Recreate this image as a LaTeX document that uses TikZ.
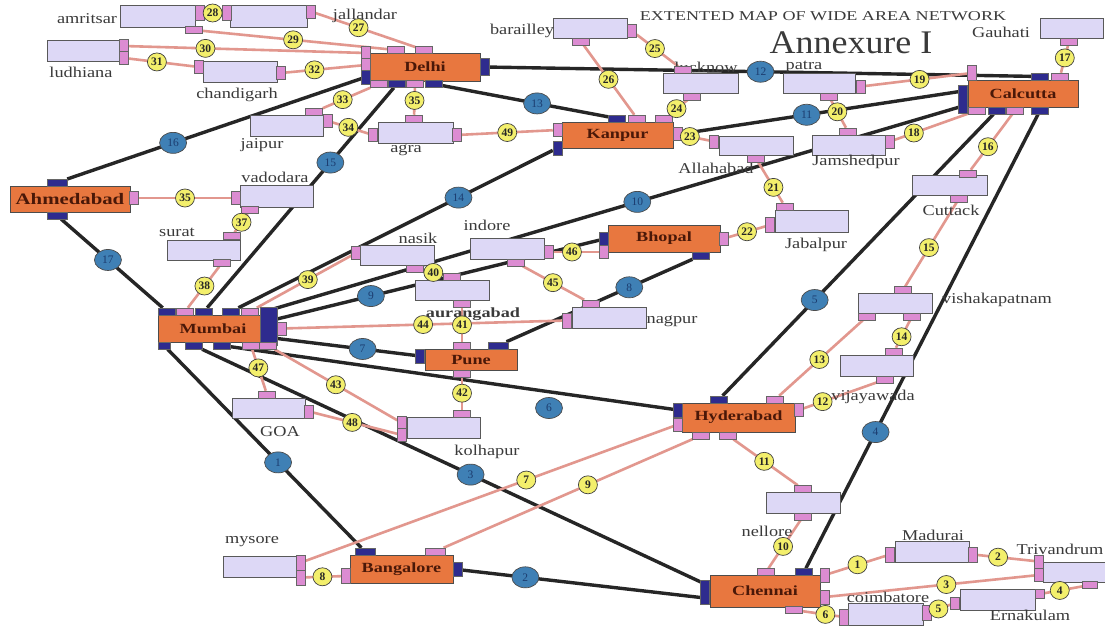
\documentclass[tikz,border=0pt]{standalone}
\usepackage{fontspec}
\usetikzlibrary{shapes.geometric}
\newfontfamily\myLblFam[FakeStretch=1.22]{Liberation Serif}
\newfontfamily\myHubFam[FakeStretch=1.3]{Liberation Serif}
\newfontfamily\myTtlFam[FakeStretch=1.34]{Liberation Serif}
\newfontfamily\myAnnFam[FakeStretch=1.09]{Liberation Serif}
\newfontfamily\myNumFam{Liberation Serif}
\newcommand\myLblF{\myLblFam\fontsize{15}{17}\selectfont}
\newcommand\myLblB{\myHubFam\bfseries\fontsize{14}{16}\selectfont}
\newcommand\myHubF{\myHubFam\bfseries\fontsize{14}{16}\selectfont}
\newcommand\myHubBig{\myHubFam\bfseries\fontsize{16}{18}\selectfont}
\newcommand\myTtlF{\myTtlFam\fontsize{13.5}{15}\selectfont}
\newcommand\myAnnF{\myAnnFam\fontsize{33}{36}\selectfont}
\newcommand\myNumF{\myNumFam\fontsize{11.5}{13}\selectfont}
\newcommand\myNumB{\myNumFam\bfseries\fontsize{11.5}{13}\selectfont}
\definecolor{hubor}{HTML}{E8773F}
\definecolor{hubtxt}{HTML}{4A1808}
\definecolor{boxlav}{HTML}{DDD8F6}
\definecolor{portpink}{HTML}{DC8CD2}
\definecolor{portnavy}{HTML}{2E2B8E}
\definecolor{lanpink}{HTML}{E2978E}
\definecolor{wanblack}{HTML}{262626}
\definecolor{wanblue}{HTML}{3F80B5}
\definecolor{wantxt}{HTML}{1C3D70}
\definecolor{lanyel}{HTML}{F3EF6C}
\definecolor{txtgray}{HTML}{3A3A3A}
\pgfdeclarelayer{bg}
\pgfsetlayers{bg,main}
\tikzset{
 hub/.style={draw=black!70, line width=0.8pt, fill=hubor, font=\myHubF, text=hubtxt, inner sep=0pt},
 sbox/.style={draw=black!65, line width=0.7pt, fill=boxlav, minimum width=74, minimum height=21, inner sep=0pt},
 pp/.style={draw=black!60, line width=0.5pt, fill=portpink, inner sep=0pt},
 np/.style={draw=black!60, line width=0.5pt, fill=portnavy, inner sep=0pt},
 ph/.style={pp, minimum width=17, minimum height=7},
 pv/.style={pp, minimum width=9, minimum height=13},
 nh/.style={np, minimum width=17, minimum height=7},
 nv/.style={np, minimum width=9, minimum height=14},
 lbl/.style={font=\myLblF, text=txtgray, inner sep=0pt},
 wanline/.style={draw=wanblack, line width=3.4pt},
 lanline/.style={draw=lanpink, line width=2.6pt},
 wanlab/.style={ellipse, draw=black!70, fill=wanblue, minimum width=27, minimum height=21, inner sep=0pt, font=\myNumF, text=wantxt, line width=0.7pt},
 lanlab/.style={ellipse, draw=black!75, fill=lanyel, minimum width=19, minimum height=18, inner sep=0pt, font=\myNumB, text=black!85, line width=0.7pt}
}
\newcommand\wanlk[4]{\begin{pgfonlayer}{bg}\draw[wanline] (#1) -- (#2);\end{pgfonlayer}\path (#1) -- (#2) node[wanlab,pos=#3] {#4};}
\newcommand\lanlk[4]{\begin{pgfonlayer}{bg}\draw[lanline] (#1) -- (#2);\end{pgfonlayer}\path (#1) -- (#2) node[lanlab,pos=#3] {#4};}
\begin{document}
\begin{tikzpicture}[x=1pt,y=-1pt]
\useasboundingbox (0,0) rectangle (1105,626);
\begin{pgfonlayer}{bg}\fill[white] (0,0) rectangle (1105,626);\end{pgfonlayer}
% titles
\node[font=\myTtlF,text=txtgray,inner sep=0pt] (title) at (823,16) {EXTENTED MAP OF WIDE AREA NETWORK};
\node[font=\myAnnF,text=txtgray,inner sep=0pt] (annex) at (851,42.5) {Annexure I};
% hubs
\node[hub,minimum width=110,minimum height=28] (delhi) at (425,67) {Delhi};
\node[hub,minimum width=111,minimum height=26] (kanpur) at (617.5,135) {Kanpur};
\node[hub,minimum width=110,minimum height=27] (calcutta) at (1023,93.5) {Calcutta};
\node[hub,minimum width=120,minimum height=26,font=\myHubBig] (ahmedabad) at (70,199) {Ahmedabad};
\node[hub,minimum width=110,minimum height=27] (mumbai) at (213,328.5) {Mumbai};
\node[hub,minimum width=112,minimum height=27] (bhopal) at (664,238.5) {Bhopal};
\node[hub,minimum width=92,minimum height=21] (pune) at (471,359.5) {Pune};
\node[hub,minimum width=113,minimum height=29] (hyderabad) at (738.5,417.5) {Hyderabad};
\node[hub,minimum width=103,minimum height=28] (bangalore) at (401.5,569) {Bangalore};
\node[hub,minimum width=110,minimum height=32] (chennai) at (765,591) {Chennai};
% small boxes
\node[sbox,minimum width=75,minimum height=22] (amritsar) at (157.5,16) {};
\node[sbox,minimum width=77,minimum height=22] (jallandar) at (268.5,16) {};
\node[sbox,minimum width=73] (ludhiana) at (83.5,50.5) {};
\node[sbox] (chandigarh) at (240,71.5) {};
\node[sbox,minimum width=73] (jaipur) at (286.5,125.5) {};
\node[sbox,minimum width=75] (agra) at (415.5,132.5) {};
\node[sbox,minimum width=73,minimum height=22] (vadodara) at (276.5,196) {};
\node[sbox,minimum width=73,minimum height=20] (surat) at (203.5,250) {};
\node[sbox,minimum height=20] (barailley) at (590,28) {};
\node[sbox,minimum width=75,minimum height=20] (lucknow) at (700.5,83) {};
\node[sbox,minimum width=72,minimum height=20] (patra) at (819,83) {};
\node[sbox,minimum height=19] (allahabad) at (756,145.5) {};
\node[sbox,minimum width=73,minimum height=20] (jamshedpur) at (848.5,145) {};
\node[sbox,minimum width=63,minimum height=20] (gauhati) at (1071.5,28) {};
\node[sbox,minimum width=75,minimum height=20] (cuttack) at (949.5,185) {};
\node[sbox,minimum width=73,minimum height=22] (jabalpur) at (811.5,221) {};
\node[sbox,minimum height=20] (vishakapatnam) at (895,303) {};
\node[sbox,minimum width=73] (vijayawada) at (876.5,365.5) {};
\node[sbox,minimum height=20] (nasik) at (397,255) {};
\node[sbox] (indore) at (507,248.5) {};
\node[sbox,minimum height=20] (aurangabad) at (452,290) {};
\node[sbox] (nagpur) at (609,317.5) {};
\node[sbox,minimum width=73,minimum height=20] (goa) at (268.5,408) {};
\node[sbox,minimum width=73] (kolhapur) at (443.5,427.5) {};
\node[sbox] (mysore) at (260,566.5) {};
\node[sbox] (nellore) at (803,502.5) {};
\node[sbox] (madurai) at (932,551.5) {};
\node[sbox,minimum width=62,minimum height=20] (trivandrum) at (1074,572) {};
\node[sbox,minimum width=75,minimum height=22] (coimbatore) at (885.5,614) {};
\node[sbox,minimum width=75] (ernakulam) at (997.5,599.5) {};
% text labels
\node[lbl] (t_amritsar) at (87,19) {amritsar};
\node[lbl] (t_jallandar) at (365,16) {jallandar};
\node[lbl] (t_ludhiana) at (81,72) {ludhiana};
\node[lbl] (t_chandigarh) at (237,95) {chandigarh};
\node[lbl] (t_jaipur) at (262,145) {jaipur};
\node[lbl] (t_agra) at (406,150) {agra};
\node[lbl] (t_vadodara) at (275,177) {vadodara};
\node[lbl] (t_surat) at (177,232) {surat};
\node[lbl] (t_barailley) at (522,31) {barailley};
\node[lbl] (t_lucknow) at (706,67) {lucknow};
\node[lbl] (t_patra) at (804,67) {patra};
\node[lbl] (t_allahabad) at (716,168) {Allahabad};
\node[lbl] (t_jamshedpur) at (856,162) {Jamshedpur};
\node[lbl] (t_gauhati) at (1001,32) {Gauhati};
\node[lbl] (t_cuttack) at (951,210) {Cuttack};
\node[lbl] (t_jabalpur) at (816,245) {Jabalpur};
\node[lbl] (t_vishakapatnam) at (997,300) {vishakapatnam};
\node[lbl] (t_vijayawada) at (873,397) {vijayawada};
\node[lbl] (t_nasik) at (418,238) {nasik};
\node[lbl] (t_indore) at (487,225) {indore};
\node[lbl,font=\myLblB] (t_aurangabad) at (473,314) {aurangabad};
\node[lbl] (t_nagpur) at (672,321) {nagpur};
\node[lbl] (t_goa) at (280,432) {GOA};
\node[lbl] (t_kolhapur) at (487,452) {kolhapur};
\node[lbl] (t_mysore) at (252,542) {mysore};
\node[lbl] (t_nellore) at (767,531) {nellore};
\node[lbl] (t_madurai) at (933,535) {Madurai};
\node[lbl] (t_trivandrum) at (1060,549) {Trivandrum};
\node[lbl] (t_coimbatore) at (888,597) {coimbatore};
\node[lbl] (t_ernakulam) at (1030,615) {Ernakulam};
% hub ports
\node[pv] (Del_l1) at (366,53) {};
\node[pv] (Del_l2) at (366,65) {};
\node[nv] (Del_ln) at (366,77) {};
\node[ph] (Del_t1) at (396,50) {};
\node[ph] (Del_t2) at (424,50) {};
\node[nv,minimum height=17] (Del_rn) at (485,67) {};
\node[ph] (Del_b1) at (379,84) {};
\node[nh] (Del_bn1) at (397,84) {};
\node[ph] (Del_b2) at (415,84) {};
\node[nh] (Del_bn2) at (434,84) {};
\node[nh] (Kan_tn) at (617,118.5) {};
\node[ph] (Kan_t2) at (637,118.5) {};
\node[ph] (Kan_t3) at (664,118.5) {};
\node[pv] (Kan_lp) at (557.5,130) {};
\node[nv] (Kan_ln) at (557.5,148) {};
\node[pv] (Kan_rp) at (677.5,134) {};
\node[nv,minimum height=28] (Cal_ln) at (963,99) {};
\coordinate (Cal_a) at (963,91);
\coordinate (Cal_b) at (963,106);
\node[pv,minimum height=15] (Cal_tp1) at (972,73) {};
\node[nh] (Cal_tn) at (1040,76.5) {};
\node[ph] (Cal_tp2) at (1060,76.5) {};
\node[ph] (Cal_bp1) at (977,110.5) {};
\node[nh] (Cal_bn1) at (997,110.5) {};
\node[ph] (Cal_bp2) at (1015,110.5) {};
\node[nh] (Cal_bn2) at (1040,110.5) {};
\node[nh,minimum width=20] (Ahm_tn) at (57,182.5) {};
\node[pv] (Ahm_rp) at (134,198) {};
\node[nh,minimum width=20] (Ahm_bn) at (57,215.5) {};
\node[nh] (M_t1) at (167,311.5) {};
\node[ph] (M_t2) at (185,311.5) {};
\node[nh] (M_t3) at (204,311.5) {};
\node[nh] (M_t4) at (231,311.5) {};
\node[ph] (M_t5) at (250,311.5) {};
\node[np,minimum width=17,minimum height=38] (M_rcol) at (268.5,326) {};
\coordinate (M_r1) at (270,310);
\coordinate (M_r2) at (273,320);
\coordinate (M_r3) at (273,338);
\node[pv] (M_rp) at (282,328.5) {};
\node[nh,minimum width=12] (M_b1) at (164,345.5) {};
\node[nh] (M_b2) at (194,345.5) {};
\node[nh] (M_b3) at (222,345.5) {};
\node[ph] (M_b4) at (251,345.5) {};
\node[ph] (M_b5) at (268,345.5) {};
\node[nv] (Bho_ln) at (604,239) {};
\node[pv] (Bho_lp) at (604,252) {};
\node[pv] (Bho_rp) at (724,238.5) {};
\node[nh] (Bho_bn) at (701,255.5) {};
\node[ph] (Pune_t) at (462,345.5) {};
\node[nh,minimum width=20] (Pune_tn) at (498,345.5) {};
\node[nv] (Pune_ln) at (420,356) {};
\node[ph] (Pune_b) at (462,373.5) {};
\node[nh] (Hyd_tn) at (719,399.5) {};
\node[ph] (Hyd_tp) at (775,399.5) {};
\node[pv] (Hyd_rp) at (799,410) {};
\node[nv] (Hyd_ln) at (678,410) {};
\node[pv] (Hyd_lp) at (678,424.5) {};
\node[ph] (Hyd_bp1) at (701,435.5) {};
\node[ph] (Hyd_bp2) at (728,435.5) {};
\node[nh,minimum width=20] (Ban_tn) at (365,551.5) {};
\node[ph,minimum width=20] (Ban_tp) at (435,551.5) {};
\node[pv,minimum height=15] (Ban_lp) at (346,576) {};
\node[nv] (Ban_rn) at (457.5,569.5) {};
\node[ph] (Che_tp) at (766,572) {};
\node[nh] (Che_tn) at (804,572) {};
\node[nv,minimum height=24] (Che_ln) at (705,592) {};
\coordinate (Che_a) at (705,584);
\coordinate (Che_b) at (705,598);
\node[pv,minimum height=14] (Che_rp1) at (825,575) {};
\node[pv,minimum height=14] (Che_rp2) at (825,597) {};
\node[ph] (Che_bp) at (794,610) {};
% small box ports
\node[pv,minimum height=15] (amr_r) at (200,13) {};
\node[ph] (amr_b) at (194,30) {};
\node[pv,minimum height=15] (jal_l) at (227,13) {};
\node[pv] (jal_r) at (311,11.5) {};
\node[pv] (lud_r1) at (124,46) {};
\node[pv] (lud_r2) at (124,58) {};
\node[pv] (cha_l) at (199,67) {};
\node[pv] (cha_r) at (281,73) {};
\node[ph] (jai_t) at (314,112) {};
\node[pv] (jai_r) at (328,121) {};
\node[pv] (agr_l) at (373,135) {};
\node[ph] (agr_t) at (414,118.5) {};
\node[pv] (agr_r) at (457,135) {};
\node[pv] (vad_l) at (236,198) {};
\node[ph] (vad_b) at (250,210) {};
\node[ph] (sur_t) at (232,236) {};
\node[ph] (sur_b) at (222,263) {};
\node[pv] (bar_r) at (632,31) {};
\node[ph] (bar_b) at (581,41.5) {};
\node[ph] (luc_t) at (683,70) {};
\node[ph] (luc_b) at (692,96.5) {};
\node[pv] (pat_r) at (861,86.5) {};
\node[ph] (pat_b) at (829,96.5) {};
\node[pv] (all_l) at (714,141.5) {};
\node[ph] (all_b) at (756,158.5) {};
\node[ph] (jam_t) at (848,131.5) {};
\node[pv] (jam_r) at (890,141.5) {};
\node[ph] (gau_b) at (1069,41.5) {};
\node[ph] (cut_t) at (968,173.5) {};
\node[ph] (cut_b) at (959,198.5) {};
\node[pv,minimum height=15] (jab_l) at (770,225) {};
\node[ph] (jab_t) at (785,206.5) {};
\node[ph] (vis_t) at (903,290) {};
\node[ph] (vis_b1) at (867,316.5) {};
\node[ph] (vis_b2) at (912,316.5) {};
\node[ph] (vij_t) at (894,351.5) {};
\node[ph] (vij_b) at (885,379.5) {};
\node[pv] (nas_l) at (356,253) {};
\node[ph] (nas_b) at (415,268.5) {};
\node[pv] (ind_r) at (549,252) {};
\node[ph] (ind_b) at (516,262.5) {};
\node[ph] (aur_t) at (452,276.5) {};
\node[ph] (aur_b) at (462,303.5) {};
\node[pv,minimum height=15] (nag_l) at (567,320.5) {};
\node[ph] (nag_t) at (591,303.5) {};
\node[ph] (goa_t) at (267,394.5) {};
\node[pv] (goa_r) at (309,411.5) {};
\node[pv] (kol_l1) at (402,423) {};
\node[pv] (kol_l2) at (402,435) {};
\node[ph] (kol_t) at (462,413.5) {};
\node[pv,minimum height=15] (mys_r1) at (301,562.5) {};
\node[pv,minimum height=15] (mys_r2) at (301,577.5) {};
\node[ph] (nel_t) at (803,489) {};
\node[ph] (nel_b) at (803,516.5) {};
\node[pv,minimum height=15] (mad_l) at (890,554.5) {};
\node[pv,minimum height=15] (mad_r) at (973,554.5) {};
\node[pv] (tri_l1) at (1039,561.5) {};
\node[pv] (tri_l2) at (1039,575) {};
\node[ph,minimum width=15] (tri_b) at (1090,585) {};
\node[pv,minimum height=16] (coi_l) at (844,617) {};
\node[pv,minimum height=15] (coi_r) at (927,613) {};
\node[pv,minimum height=12] (ern_l) at (955,603) {};
\node[pv,minimum height=9] (ern_r) at (1040,594) {};
% WAN links
\wanlk{M_b1}{Ban_tn}{0.57}{1}
\wanlk{Ban_rn}{Che_b}{0.26}{2}
\wanlk{M_b2}{Che_a}{0.534}{3}
\wanlk{Che_tn}{Cal_bn2}{0.30}{4}
\wanlk{Hyd_tn}{Cal_bn1}{0.34}{5}
\begin{pgfonlayer}{bg}\draw[wanline] (M_b3) -- (Hyd_ln);\end{pgfonlayer}
\node[wanlab] (w6) at (549,408) {6};
\wanlk{M_r3}{Pune_ln}{0.63}{7}
\wanlk{Pune_tn}{Bho_bn}{0.66}{8}
\wanlk{M_r2}{Bho_ln}{0.30}{9}
\wanlk{M_r1}{Cal_b}{0.53}{10}
\wanlk{kanpur.east}{Cal_a}{0.46}{11}
\wanlk{Del_rn}{Cal_tn}{0.50}{12}
\wanlk{Del_bn2}{Kan_tn}{0.57}{13}
\wanlk{M_t4}{Kan_ln}{0.70}{14}
\wanlk{M_t3}{Del_bn1}{0.66}{15}
\wanlk{Ahm_tn}{Del_ln}{0.36}{16}
\wanlk{Ahm_bn}{M_t1}{0.46}{17}
% LAN links
\lanlk{jal_r}{Del_t2}{0.43}{27}
\lanlk{amr_r}{jal_l}{0.45}{28}
\lanlk{amr_b}{Del_t1}{0.49}{29}
\lanlk{lud_r1}{Del_l1}{0.33}{30}
\lanlk{lud_r2}{cha_l}{0.43}{31}
\lanlk{cha_r}{Del_l2}{0.38}{32}
\lanlk{jai_t}{Del_b1}{0.42}{33}
\lanlk{jai_r}{agr_l}{0.44}{34}
\lanlk{Del_b2}{agr_t}{0.47}{35}
\lanlk{Ahm_rp}{vad_l}{0.5}{35}
\lanlk{vad_b}{sur_t}{0.46}{37}
\lanlk{sur_b}{M_t2}{0.47}{38}
\lanlk{M_t5}{nas_l}{0.54}{39}
\lanlk{nas_b}{aur_t}{0.49}{40}
\lanlk{aur_b}{Pune_t}{0.51}{41}
\lanlk{Pune_b}{kol_t}{0.49}{42}
\lanlk{M_b5}{kol_l1}{0.50}{43}
\lanlk{M_rp}{nag_l}{0.495}{44}
\lanlk{ind_b}{nag_t}{0.49}{45}
\lanlk{ind_r}{Bho_lp}{0.40}{46}
\lanlk{M_b4}{goa_t}{0.45}{47}
\lanlk{goa_r}{kol_l2}{0.46}{48}
\lanlk{agr_r}{Kan_lp}{0.5}{49}
\lanlk{bar_b}{Kan_t2}{0.49}{26}
\lanlk{bar_r}{luc_t}{0.44}{25}
\lanlk{luc_b}{Kan_t3}{0.58}{24}
\lanlk{Kan_rp}{all_l}{0.28}{23}
\lanlk{all_b}{jab_t}{0.62}{21}
\lanlk{Bho_rp}{jab_l}{0.5}{22}
\lanlk{pat_b}{jam_t}{0.42}{20}
\lanlk{pat_r}{Cal_tp1}{0.53}{19}
\lanlk{jam_r}{Cal_bp1}{0.26}{18}
\lanlk{gau_b}{Cal_tp2}{0.46}{17}
\lanlk{Cal_bp2}{cut_t}{0.585}{16}
\lanlk{cut_b}{vis_t}{0.54}{15}
\lanlk{vis_b2}{vij_t}{0.6}{14}
\lanlk{vis_b1}{Hyd_tp}{0.52}{13}
\lanlk{vij_b}{Hyd_rp}{0.74}{12}
\lanlk{Hyd_bp2}{nel_t}{0.48}{11}
\lanlk{nel_b}{Che_tp}{0.545}{10}
\lanlk{Hyd_lp}{mys_r1}{0.40}{7}
\lanlk{Hyd_bp1}{Ban_tp}{0.42}{9}
\lanlk{mys_r2}{Ban_lp}{0.47}{8}
\lanlk{Che_rp1}{mad_l}{0.5}{1}
\lanlk{mad_r}{tri_l1}{0.36}{2}
\lanlk{Che_rp2}{tri_l2}{0.57}{3}
\lanlk{ern_r}{tri_b}{0.4}{4}
\lanlk{coi_r}{ern_l}{0.36}{5}
\lanlk{Che_bp}{coi_l}{0.62}{6}
\end{tikzpicture}
\end{document}
